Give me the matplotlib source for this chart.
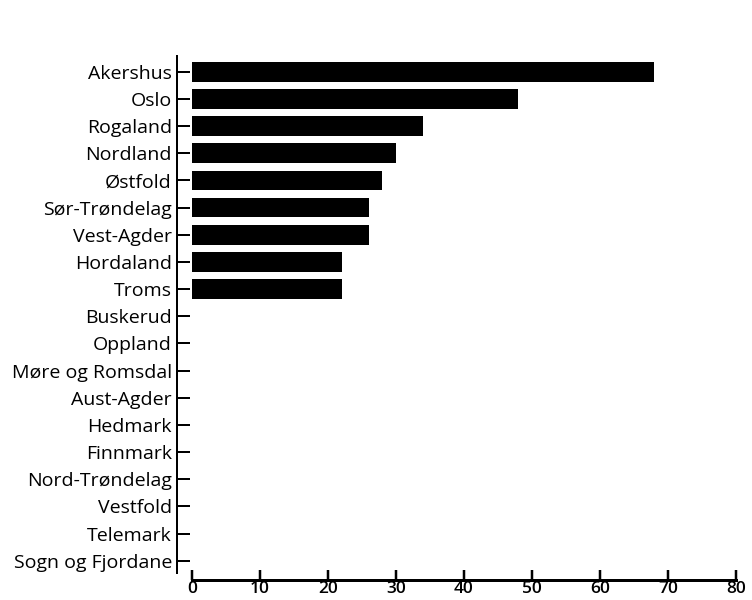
import matplotlib
matplotlib.use("Agg")
import matplotlib.pyplot as plt

# --- Data ---
counties = [
    "Akershus", "Oslo", "Rogaland", "Nordland", "Østfold", "Sør-Trøndelag",
    "Vest-Agder", "Hordaland", "Troms", "Buskerud", "Oppland",
    "Møre og Romsdal", "Aust-Agder", "Hedmark", "Finnmark",
    "Nord-Trøndelag", "Vestfold", "Telemark", "Sogn og Fjordane",
]
values = [68, 48, 34, 30, 28, 26, 26, 22, 22, 0, 0, 0, 0, 0, 0, 0, 0, 0, 0]
x_ticks = [0, 10, 20, 30, 40, 50, 60, 70, 80]

plt.rcParams['font.family'] = ['Open Sans', 'DejaVu Sans']

PT = 0.72  # points per pixel at dpi 100

fig = plt.figure(figsize=(7.52, 6.0), dpi=100)
ax = fig.add_axes([192 / 752, 1 - 573 / 600, 544 / 752, 517 / 600])

y_pos = list(range(len(counties)))
ax.barh(y_pos, values, height=0.72, color='black')

ax.set_xlim(0, 80)
ax.set_ylim(18.45, -0.58)
ax.set_yticks(y_pos)
ax.set_yticklabels(counties)
ax.set_xticks(x_ticks)
ax.set_xticklabels([str(t) for t in x_ticks])

for s in ['top', 'right']:
    ax.spines[s].set_visible(False)
ax.spines['left'].set_position(('outward', 15 * PT))
ax.spines['bottom'].set_position(('outward', 7 * PT))
ax.spines['left'].set_linewidth(2 * PT)
ax.spines['bottom'].set_linewidth(3 * PT)

ax.tick_params(axis='y', direction='in', length=13 * PT, width=2 * PT,
               pad=5 * PT, labelsize=14)
ax.tick_params(axis='x', direction='in', length=10 * PT, width=2.5 * PT,
               pad=1 * PT, labelsize=12.5)
for lbl in ax.get_xticklabels():
    lbl.set_fontweight('semibold')

fig.savefig("out.png", dpi=100)
